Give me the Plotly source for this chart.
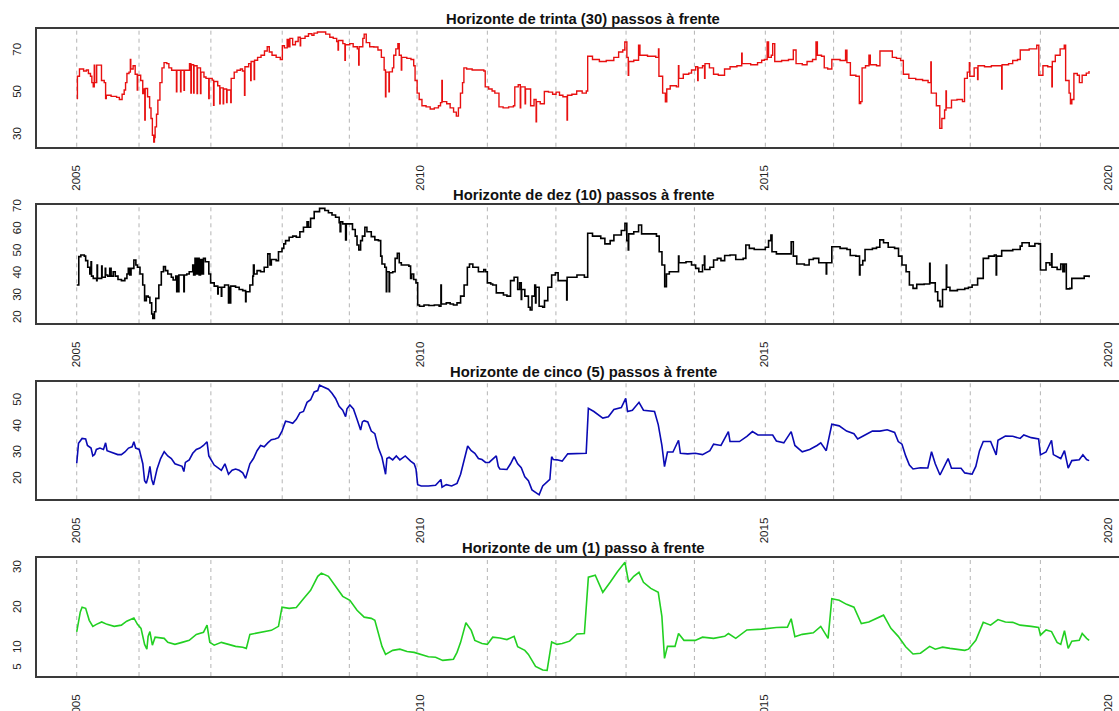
import plotly.graph_objects as go

# First trading day of each year (fractional year on the time axis)
year_marks = [2005.000, 2005.906, 2006.951, 2007.988, 2008.964, 2009.948, 2010.971,
              2011.968, 2012.988, 2013.982, 2015.013, 2016.006, 2016.989, 2017.993, 2019.013]

year_ticks = [2005, 2010, 2015, 2020]

# Forecast series: [fractional year, value]
trinta = [
    [2005.000, 47.5], [2005.010, 58.0], [2005.040, 61.5], [2005.100, 60.5], [2005.140, 61.0],
    [2005.170, 59.3], [2005.200, 58.0], [2005.220, 55.0], [2005.240, 53.0], [2005.255, 63.3],
    [2005.262, 55.0], [2005.290, 63.3], [2005.350, 63.3], [2005.360, 56.0], [2005.400, 55.0],
    [2005.420, 47.5], [2005.430, 49.0], [2005.500, 48.5], [2005.580, 48.0], [2005.620, 47.0],
    [2005.660, 49.5], [2005.690, 51.5], [2005.710, 55.0], [2005.730, 59.3], [2005.760, 60.0],
    [2005.780, 66.0], [2005.786, 61.5], [2005.820, 63.0], [2005.850, 59.0], [2005.880, 51.5],
    [2005.886, 58.5], [2005.930, 56.0], [2005.960, 49.8], [2005.975, 52.0], [2005.990, 37.2],
    [2005.996, 52.2], [2006.030, 48.3], [2006.060, 43.0], [2006.080, 38.0], [2006.100, 30.0],
    [2006.120, 26.8], [2006.130, 29.0], [2006.140, 34.0], [2006.160, 40.0], [2006.180, 46.7],
    [2006.210, 55.0], [2006.240, 62.0], [2006.270, 64.5], [2006.310, 64.0], [2006.340, 62.0],
    [2006.380, 60.9], [2006.450, 50.6], [2006.456, 60.9], [2006.510, 50.6], [2006.516, 60.9],
    [2006.560, 51.4], [2006.566, 60.9], [2006.640, 64.0], [2006.660, 50.0], [2006.666, 63.5],
    [2006.700, 50.0], [2006.706, 63.0], [2006.750, 49.8], [2006.756, 62.0], [2006.800, 49.8],
    [2006.806, 60.0], [2006.850, 57.7], [2006.880, 57.0], [2006.920, 47.5], [2006.926, 57.0],
    [2006.970, 56.2], [2006.990, 44.3], [2006.996, 55.5], [2007.050, 53.5], [2007.080, 45.0],
    [2007.086, 52.5], [2007.130, 45.0], [2007.136, 52.0], [2007.180, 45.5], [2007.186, 51.5],
    [2007.240, 45.5], [2007.246, 57.0], [2007.290, 60.0], [2007.330, 60.9], [2007.380, 61.5],
    [2007.410, 60.5], [2007.440, 49.0], [2007.446, 62.5], [2007.500, 64.0], [2007.530, 56.0],
    [2007.536, 65.0], [2007.580, 56.5], [2007.586, 65.6], [2007.630, 67.0], [2007.680, 68.0],
    [2007.730, 70.0], [2007.770, 72.0], [2007.800, 69.5], [2007.840, 68.0], [2007.900, 67.0],
    [2007.960, 66.0], [2007.990, 72.5], [2008.020, 71.5], [2008.060, 75.5], [2008.080, 72.0],
    [2008.100, 76.0], [2008.140, 73.0], [2008.180, 74.5], [2008.220, 76.5], [2008.250, 72.5],
    [2008.256, 76.0], [2008.320, 77.0], [2008.370, 78.2], [2008.420, 77.5], [2008.450, 78.5],
    [2008.500, 79.0], [2008.620, 78.0], [2008.680, 76.5], [2008.730, 76.0], [2008.780, 74.5],
    [2008.800, 70.4], [2008.806, 75.0], [2008.870, 73.5], [2008.900, 65.6], [2008.906, 73.0],
    [2008.970, 73.5], [2009.020, 72.0], [2009.080, 71.0], [2009.100, 63.3], [2009.106, 72.0],
    [2009.160, 76.0], [2009.180, 78.0], [2009.210, 74.0], [2009.260, 72.0], [2009.320, 71.9],
    [2009.380, 70.5], [2009.430, 67.0], [2009.470, 61.0], [2009.490, 48.3], [2009.496, 60.0],
    [2009.540, 50.6], [2009.546, 60.1], [2009.590, 62.0], [2009.610, 68.0], [2009.640, 71.0],
    [2009.670, 73.5], [2009.690, 68.0], [2009.720, 61.0], [2009.726, 67.0], [2009.800, 66.5],
    [2009.860, 66.0], [2009.900, 63.0], [2009.920, 56.0], [2009.950, 50.0], [2009.980, 47.0],
    [2010.020, 44.0], [2010.080, 43.5], [2010.140, 42.5], [2010.200, 43.0], [2010.260, 44.0],
    [2010.290, 45.5], [2010.310, 56.0], [2010.316, 46.0], [2010.380, 45.0], [2010.430, 43.0],
    [2010.480, 41.0], [2010.520, 39.1], [2010.550, 43.0], [2010.580, 50.0], [2010.610, 55.0],
    [2010.630, 62.0], [2010.670, 61.5], [2010.750, 61.0], [2010.850, 61.0], [2010.920, 60.5],
    [2010.940, 53.0], [2010.990, 52.0], [2011.040, 51.0], [2011.080, 50.0], [2011.140, 43.5],
    [2011.200, 43.0], [2011.280, 43.5], [2011.350, 44.0], [2011.370, 53.0], [2011.420, 54.0],
    [2011.450, 43.0], [2011.456, 53.0], [2011.520, 45.0], [2011.526, 52.0], [2011.600, 44.0],
    [2011.650, 47.0], [2011.680, 36.4], [2011.686, 46.0], [2011.740, 45.0], [2011.800, 50.8],
    [2011.860, 50.5], [2011.920, 49.5], [2011.970, 50.5], [2012.020, 49.0], [2012.070, 48.3],
    [2012.130, 37.2], [2012.136, 49.0], [2012.200, 49.5], [2012.270, 51.0], [2012.350, 50.0],
    [2012.410, 51.0], [2012.430, 67.5], [2012.500, 66.0], [2012.600, 65.0], [2012.700, 65.5],
    [2012.810, 67.0], [2012.880, 69.5], [2012.940, 70.5], [2012.970, 74.3], [2013.000, 67.0],
    [2013.020, 58.5], [2013.026, 65.0], [2013.100, 65.6], [2013.170, 72.7], [2013.190, 68.0],
    [2013.300, 67.5], [2013.420, 67.0], [2013.460, 71.0], [2013.466, 58.0], [2013.520, 50.0],
    [2013.560, 45.9], [2013.580, 52.0], [2013.630, 53.5], [2013.720, 53.0], [2013.750, 63.0],
    [2013.756, 57.0], [2013.820, 59.0], [2013.900, 59.5], [2013.940, 61.0], [2014.000, 62.5],
    [2014.030, 56.0], [2014.036, 62.0], [2014.100, 63.0], [2014.130, 57.0], [2014.136, 64.0],
    [2014.200, 62.0], [2014.260, 59.0], [2014.330, 58.5], [2014.420, 61.5], [2014.500, 62.5],
    [2014.600, 63.0], [2014.670, 69.0], [2014.676, 64.0], [2014.800, 63.5], [2014.900, 64.5],
    [2014.960, 65.6], [2015.000, 66.0], [2015.040, 74.3], [2015.060, 67.0], [2015.100, 68.0],
    [2015.120, 73.5], [2015.150, 65.0], [2015.250, 65.5], [2015.350, 66.0], [2015.420, 70.5],
    [2015.460, 64.0], [2015.550, 63.5], [2015.620, 65.0], [2015.700, 66.0], [2015.750, 74.3],
    [2015.770, 68.0], [2015.830, 67.5], [2015.870, 62.0], [2015.920, 61.5], [2015.980, 66.0],
    [2016.100, 65.5], [2016.180, 70.4], [2016.200, 64.5], [2016.250, 58.5], [2016.330, 58.0],
    [2016.380, 45.1], [2016.400, 46.0], [2016.420, 62.0], [2016.470, 63.0], [2016.520, 68.0],
    [2016.540, 63.5], [2016.630, 63.0], [2016.680, 70.0], [2016.800, 70.0], [2016.860, 67.0],
    [2016.920, 66.5], [2016.980, 65.5], [2017.020, 59.0], [2017.100, 57.0], [2017.200, 56.5],
    [2017.300, 56.0], [2017.380, 55.0], [2017.420, 64.8], [2017.426, 50.0], [2017.500, 44.0],
    [2017.550, 33.3], [2017.580, 38.0], [2017.620, 42.0], [2017.640, 51.0], [2017.646, 43.0],
    [2017.720, 46.7], [2017.800, 47.0], [2017.880, 46.0], [2017.910, 57.0], [2017.950, 60.0],
    [2017.980, 64.5], [2017.986, 58.0], [2018.050, 62.0], [2018.100, 56.5], [2018.106, 63.0],
    [2018.200, 62.5], [2018.300, 63.0], [2018.450, 52.0], [2018.456, 63.5], [2018.550, 64.0],
    [2018.610, 65.5], [2018.680, 66.0], [2018.720, 70.5], [2018.850, 71.0], [2018.960, 72.7],
    [2018.990, 58.5], [2019.050, 63.0], [2019.120, 62.5], [2019.180, 53.0], [2019.186, 65.0],
    [2019.230, 68.0], [2019.300, 71.0], [2019.360, 72.7], [2019.380, 56.0], [2019.430, 50.0],
    [2019.450, 45.0], [2019.470, 47.0], [2019.500, 59.3], [2019.550, 58.5], [2019.580, 55.0],
    [2019.620, 58.5], [2019.680, 59.5], [2019.720, 60.5],
]

dez = [
    [2005.000, 35.0], [2005.030, 47.8], [2005.060, 48.5], [2005.110, 48.0], [2005.130, 46.0],
    [2005.160, 43.0], [2005.190, 40.0], [2005.208, 45.5], [2005.215, 39.0], [2005.240, 38.0],
    [2005.290, 37.0], [2005.296, 44.0], [2005.302, 38.0], [2005.363, 43.5], [2005.369, 38.5],
    [2005.415, 42.5], [2005.421, 39.5], [2005.450, 39.0], [2005.480, 42.5], [2005.500, 39.0],
    [2005.530, 41.0], [2005.560, 39.0], [2005.600, 37.5], [2005.650, 37.0], [2005.700, 38.0],
    [2005.730, 40.0], [2005.750, 42.5], [2005.770, 39.5], [2005.790, 42.5], [2005.831, 46.3],
    [2005.860, 44.0], [2005.883, 43.0], [2005.920, 40.0], [2005.960, 35.0], [2005.987, 28.0],
    [2006.012, 30.0], [2006.040, 29.5], [2006.064, 27.0], [2006.090, 22.0], [2006.106, 20.0],
    [2006.130, 23.0], [2006.150, 29.0], [2006.194, 35.0], [2006.230, 41.0], [2006.262, 43.3],
    [2006.290, 41.5], [2006.324, 40.0], [2006.376, 38.5], [2006.402, 37.3], [2006.440, 39.0],
    [2006.454, 32.0], [2006.460, 39.0], [2006.480, 32.0], [2006.486, 39.5], [2006.558, 32.0],
    [2006.564, 39.5], [2006.600, 40.0], [2006.636, 41.0], [2006.687, 44.0], [2006.700, 39.5],
    [2006.720, 47.0], [2006.740, 40.0], [2006.760, 47.0], [2006.780, 39.5], [2006.800, 46.5],
    [2006.820, 40.0], [2006.843, 47.0], [2006.870, 45.5], [2006.921, 40.0], [2006.947, 36.0],
    [2006.999, 34.5], [2007.051, 31.0], [2007.057, 34.0], [2007.103, 30.0], [2007.109, 34.0],
    [2007.150, 35.0], [2007.207, 27.0], [2007.213, 34.0], [2007.233, 27.0], [2007.239, 34.5],
    [2007.310, 34.0], [2007.362, 33.0], [2007.414, 32.5], [2007.456, 27.5], [2007.462, 32.0],
    [2007.518, 35.0], [2007.560, 39.0], [2007.570, 44.0], [2007.580, 40.0], [2007.622, 41.5],
    [2007.674, 41.0], [2007.726, 43.0], [2007.778, 49.0], [2007.810, 44.0], [2007.830, 46.5],
    [2007.900, 46.0], [2007.934, 50.0], [2007.985, 51.5], [2008.011, 53.5], [2008.037, 55.0],
    [2008.089, 56.5], [2008.141, 57.0], [2008.193, 56.5], [2008.245, 59.0], [2008.297, 61.0],
    [2008.349, 63.5], [2008.370, 61.0], [2008.401, 65.0], [2008.453, 68.0], [2008.531, 69.5],
    [2008.608, 68.5], [2008.660, 67.5], [2008.712, 66.5], [2008.764, 65.5], [2008.816, 63.0],
    [2008.830, 59.0], [2008.840, 63.5], [2008.868, 62.5], [2008.910, 55.3], [2008.920, 62.5],
    [2009.010, 60.0], [2009.050, 57.0], [2009.076, 53.0], [2009.102, 50.8], [2009.128, 55.0],
    [2009.154, 57.0], [2009.190, 61.0], [2009.220, 59.0], [2009.283, 56.8], [2009.335, 55.3],
    [2009.387, 55.0], [2009.420, 48.0], [2009.439, 44.5], [2009.480, 43.0], [2009.502, 32.0],
    [2009.508, 41.0], [2009.543, 32.0], [2009.549, 40.5], [2009.595, 41.0], [2009.630, 47.0],
    [2009.662, 49.3], [2009.690, 45.0], [2009.720, 44.0], [2009.830, 43.5], [2009.855, 38.0],
    [2009.870, 40.0], [2009.900, 37.5], [2009.933, 36.0], [2009.958, 26.0], [2009.984, 25.5],
    [2010.050, 26.0], [2010.120, 25.8], [2010.200, 26.0], [2010.270, 25.5], [2010.296, 35.0],
    [2010.302, 26.5], [2010.374, 27.0], [2010.430, 26.5], [2010.478, 26.0], [2010.530, 27.0],
    [2010.582, 30.0], [2010.633, 35.0], [2010.680, 43.0], [2010.711, 44.5], [2010.760, 43.0],
    [2010.841, 41.0], [2010.919, 42.0], [2010.945, 41.0], [2010.971, 36.0], [2011.020, 35.5],
    [2011.049, 35.0], [2011.101, 31.5], [2011.205, 30.5], [2011.256, 30.0], [2011.308, 37.0],
    [2011.360, 38.5], [2011.412, 33.0], [2011.440, 36.0], [2011.464, 28.5], [2011.470, 33.0],
    [2011.516, 30.0], [2011.568, 25.0], [2011.594, 23.8], [2011.620, 30.0], [2011.660, 35.0],
    [2011.672, 27.0], [2011.678, 34.0], [2011.724, 25.5], [2011.776, 25.0], [2011.802, 28.0],
    [2011.850, 34.0], [2011.906, 39.5], [2011.960, 40.5], [2012.000, 37.0], [2012.113, 37.0],
    [2012.125, 28.3], [2012.131, 38.5], [2012.274, 39.5], [2012.382, 38.5], [2012.430, 58.3],
    [2012.500, 57.0], [2012.620, 56.0], [2012.680, 53.5], [2012.757, 55.0], [2012.811, 57.5],
    [2012.919, 59.5], [2012.972, 62.8], [2012.999, 55.0], [2013.020, 50.8], [2013.026, 58.0],
    [2013.100, 59.0], [2013.170, 62.0], [2013.214, 58.0], [2013.348, 58.0], [2013.430, 57.0],
    [2013.470, 50.0], [2013.510, 44.0], [2013.550, 34.3], [2013.575, 40.0], [2013.617, 41.0],
    [2013.724, 41.0], [2013.751, 48.0], [2013.757, 45.0], [2013.860, 45.5], [2013.940, 44.0],
    [2014.000, 42.5], [2014.046, 41.0], [2014.100, 44.0], [2014.127, 48.0], [2014.133, 42.0],
    [2014.207, 43.0], [2014.261, 46.3], [2014.315, 47.0], [2014.368, 46.0], [2014.422, 48.3],
    [2014.500, 48.5], [2014.583, 46.5], [2014.691, 47.0], [2014.730, 53.0], [2014.780, 51.5],
    [2014.852, 51.0], [2015.013, 52.0], [2015.060, 55.0], [2015.094, 57.5], [2015.110, 50.0],
    [2015.174, 49.0], [2015.335, 49.0], [2015.389, 54.5], [2015.420, 48.0], [2015.470, 44.5],
    [2015.580, 44.0], [2015.650, 46.5], [2015.711, 47.0], [2015.790, 45.0], [2015.899, 40.0],
    [2015.905, 45.0], [2015.980, 52.2], [2016.100, 51.5], [2016.200, 51.0], [2016.248, 48.3],
    [2016.330, 48.0], [2016.383, 39.5], [2016.390, 44.0], [2016.430, 46.0], [2016.463, 51.0],
    [2016.570, 51.5], [2016.630, 52.0], [2016.678, 55.3], [2016.732, 54.0], [2016.800, 52.0],
    [2016.893, 51.5], [2016.950, 48.0], [2017.000, 44.0], [2017.060, 41.0], [2017.108, 35.0],
    [2017.161, 33.5], [2017.215, 35.3], [2017.322, 35.5], [2017.403, 44.8], [2017.409, 36.0],
    [2017.484, 32.0], [2017.520, 28.0], [2017.553, 25.3], [2017.590, 33.0], [2017.645, 44.0],
    [2017.651, 34.0], [2017.698, 32.5], [2017.806, 33.0], [2017.913, 33.5], [2017.967, 34.0],
    [2018.020, 35.0], [2018.100, 38.0], [2018.182, 47.0], [2018.260, 48.0], [2018.343, 48.5],
    [2018.370, 39.5], [2018.376, 48.0], [2018.450, 50.5], [2018.611, 51.0], [2018.719, 52.5],
    [2018.746, 54.0], [2018.850, 52.5], [2018.933, 53.7], [2018.987, 53.5], [2019.014, 41.8],
    [2019.095, 45.0], [2019.148, 44.0], [2019.175, 49.0], [2019.181, 43.0], [2019.256, 42.0],
    [2019.309, 44.5], [2019.340, 41.0], [2019.363, 44.5], [2019.390, 33.3], [2019.440, 33.5],
    [2019.470, 38.0], [2019.580, 38.0], [2019.650, 39.0], [2019.722, 38.5],
]

cinco = [
    [2005.000, 26.2], [2005.026, 33.8], [2005.078, 35.7], [2005.130, 35.5], [2005.156, 33.0],
    [2005.208, 32.0], [2005.234, 29.0], [2005.260, 29.5], [2005.286, 31.5], [2005.337, 32.0],
    [2005.389, 31.5], [2005.420, 34.0], [2005.441, 31.0], [2005.493, 30.5], [2005.545, 30.0],
    [2005.597, 29.5], [2005.649, 29.5], [2005.701, 30.5], [2005.753, 32.0], [2005.805, 32.5],
    [2005.831, 34.4], [2005.857, 32.0], [2005.909, 31.5], [2005.935, 29.0], [2005.961, 26.0],
    [2005.987, 19.5], [2006.012, 18.5], [2006.038, 21.0], [2006.064, 25.0], [2006.090, 20.0],
    [2006.116, 17.9], [2006.142, 21.0], [2006.168, 24.0], [2006.220, 28.0], [2006.272, 30.6],
    [2006.324, 29.0], [2006.376, 28.0], [2006.428, 26.0], [2006.480, 25.5], [2006.532, 25.0],
    [2006.558, 23.0], [2006.580, 26.5], [2006.636, 27.5], [2006.687, 30.0], [2006.739, 31.5],
    [2006.791, 32.0], [2006.843, 33.0], [2006.895, 34.4], [2006.921, 29.0], [2006.960, 27.0],
    [2006.999, 25.5], [2007.051, 24.5], [2007.103, 23.5], [2007.155, 26.0], [2007.207, 22.0],
    [2007.259, 23.5], [2007.310, 24.0], [2007.362, 23.5], [2007.414, 22.5], [2007.456, 20.4],
    [2007.490, 23.0], [2007.518, 26.0], [2007.570, 28.0], [2007.622, 31.0], [2007.674, 33.0],
    [2007.726, 32.5], [2007.778, 34.0], [2007.830, 35.2], [2007.882, 35.5], [2007.934, 36.0],
    [2007.985, 38.5], [2008.037, 42.3], [2008.089, 42.0], [2008.141, 41.5], [2008.193, 43.0],
    [2008.245, 45.5], [2008.297, 46.0], [2008.349, 49.5], [2008.401, 50.5], [2008.453, 53.5],
    [2008.505, 54.0], [2008.531, 56.1], [2008.580, 55.5], [2008.660, 54.5], [2008.712, 53.0],
    [2008.764, 51.0], [2008.816, 48.0], [2008.868, 46.5], [2008.910, 44.0], [2008.930, 47.0],
    [2008.972, 48.5], [2009.024, 47.0], [2009.076, 43.0], [2009.128, 38.9], [2009.154, 42.0],
    [2009.180, 42.5], [2009.232, 42.0], [2009.283, 38.5], [2009.335, 37.5], [2009.387, 32.0],
    [2009.439, 28.5], [2009.491, 22.0], [2009.510, 28.0], [2009.543, 28.5], [2009.595, 27.5],
    [2009.647, 29.0], [2009.699, 27.5], [2009.777, 29.0], [2009.855, 27.0], [2009.907, 26.0],
    [2009.933, 24.0], [2009.958, 18.0], [2010.010, 17.5], [2010.114, 17.5], [2010.218, 17.8],
    [2010.296, 20.0], [2010.312, 17.0], [2010.374, 18.0], [2010.452, 17.5], [2010.530, 18.5],
    [2010.582, 22.0], [2010.633, 27.0], [2010.685, 32.8], [2010.737, 31.0], [2010.789, 30.0],
    [2010.841, 28.0], [2010.893, 27.6], [2010.945, 26.5], [2010.997, 26.5], [2011.101, 29.0],
    [2011.130, 25.0], [2011.153, 24.0], [2011.256, 23.8], [2011.308, 26.0], [2011.360, 28.7],
    [2011.412, 26.0], [2011.464, 24.5], [2011.516, 21.0], [2011.568, 19.5], [2011.620, 16.0],
    [2011.672, 15.0], [2011.724, 14.1], [2011.776, 17.5], [2011.818, 18.5], [2011.880, 20.0],
    [2011.906, 28.7], [2011.931, 27.6], [2011.983, 27.5], [2012.059, 27.0], [2012.140, 29.8],
    [2012.274, 30.0], [2012.408, 30.0], [2012.440, 47.2], [2012.520, 46.0], [2012.650, 43.5],
    [2012.731, 44.0], [2012.811, 46.8], [2012.919, 47.5], [2012.983, 51.0], [2013.010, 46.0],
    [2013.080, 46.5], [2013.176, 49.5], [2013.241, 46.5], [2013.402, 46.0], [2013.456, 41.0],
    [2013.509, 33.0], [2013.547, 24.9], [2013.590, 30.5], [2013.670, 30.5], [2013.751, 35.0],
    [2013.778, 30.0], [2013.885, 29.8], [2013.993, 30.0], [2014.100, 29.5], [2014.207, 31.0],
    [2014.261, 33.5], [2014.368, 33.0], [2014.476, 38.3], [2014.500, 34.5], [2014.637, 34.5],
    [2014.745, 36.5], [2014.825, 38.3], [2014.906, 37.0], [2015.013, 37.0], [2015.120, 37.0],
    [2015.174, 34.7], [2015.282, 34.0], [2015.389, 38.3], [2015.443, 33.0], [2015.550, 30.6],
    [2015.658, 31.5], [2015.765, 33.0], [2015.819, 34.0], [2015.899, 31.0], [2015.980, 41.1],
    [2016.087, 40.5], [2016.195, 38.5], [2016.302, 37.5], [2016.356, 35.5], [2016.463, 37.0],
    [2016.570, 38.5], [2016.678, 38.5], [2016.785, 39.0], [2016.893, 38.0], [2016.946, 34.5],
    [2017.000, 33.5], [2017.054, 29.0], [2017.108, 25.5], [2017.161, 24.0], [2017.269, 24.5],
    [2017.376, 24.4], [2017.430, 30.6], [2017.484, 26.0], [2017.553, 21.7], [2017.610, 25.0],
    [2017.671, 28.0], [2017.720, 24.3], [2017.859, 24.3], [2017.913, 22.5], [2018.020, 22.0],
    [2018.074, 25.0], [2018.128, 31.0], [2018.182, 34.5], [2018.289, 34.5], [2018.370, 29.4],
    [2018.396, 35.0], [2018.504, 36.6], [2018.611, 36.5], [2018.719, 35.7], [2018.772, 37.0],
    [2018.880, 36.0], [2018.987, 35.5], [2019.014, 29.4], [2019.095, 30.5], [2019.175, 35.0],
    [2019.202, 29.5], [2019.309, 28.0], [2019.363, 31.0], [2019.417, 24.3], [2019.470, 27.2],
    [2019.578, 27.5], [2019.631, 29.4], [2019.685, 27.6], [2019.722, 27.2],
]

um = [
    [2005.000, 14.1], [2005.052, 19.1], [2005.078, 20.3], [2005.130, 20.0], [2005.182, 17.0],
    [2005.234, 15.5], [2005.286, 16.0], [2005.363, 16.6], [2005.441, 16.0], [2005.545, 15.5],
    [2005.649, 15.8], [2005.727, 16.8], [2005.831, 17.6], [2005.883, 16.0], [2005.935, 15.0],
    [2005.987, 11.0], [2006.020, 9.8], [2006.038, 13.0], [2006.064, 14.2], [2006.100, 10.8],
    [2006.140, 12.8], [2006.194, 12.6], [2006.272, 12.5], [2006.324, 11.5], [2006.428, 11.0],
    [2006.532, 11.5], [2006.636, 12.0], [2006.739, 13.5], [2006.843, 14.0], [2006.895, 15.8],
    [2006.935, 11.5], [2006.999, 10.8], [2007.103, 11.5], [2007.207, 11.0], [2007.310, 10.5],
    [2007.414, 10.3], [2007.466, 10.0], [2007.518, 13.5], [2007.622, 13.8], [2007.726, 14.2],
    [2007.830, 14.5], [2007.934, 15.5], [2007.985, 20.3], [2008.089, 20.0], [2008.193, 20.2],
    [2008.297, 22.4], [2008.401, 24.5], [2008.505, 28.0], [2008.557, 28.8], [2008.660, 28.0],
    [2008.764, 25.5], [2008.868, 23.0], [2008.972, 22.0], [2009.076, 19.5], [2009.180, 17.8],
    [2009.283, 17.5], [2009.335, 17.0], [2009.387, 13.5], [2009.439, 10.5], [2009.491, 8.5],
    [2009.595, 9.5], [2009.699, 9.8], [2009.803, 9.2], [2009.907, 9.0], [2010.010, 8.5],
    [2010.114, 7.9], [2010.218, 7.8], [2010.322, 7.0], [2010.426, 7.2], [2010.478, 7.3],
    [2010.530, 9.0], [2010.582, 11.5], [2010.659, 16.4], [2010.737, 14.5], [2010.789, 12.0],
    [2010.893, 11.2], [2010.971, 11.0], [2011.049, 12.8], [2011.153, 12.6], [2011.256, 12.2],
    [2011.360, 13.0], [2011.412, 10.4], [2011.516, 9.5], [2011.568, 8.5], [2011.672, 5.5],
    [2011.724, 5.0], [2011.776, 4.6], [2011.840, 4.5], [2011.906, 11.6], [2011.983, 11.0],
    [2012.059, 11.2], [2012.167, 11.8], [2012.274, 13.6], [2012.382, 13.7], [2012.440, 27.8],
    [2012.540, 28.3], [2012.650, 24.0], [2012.757, 26.5], [2012.865, 29.2], [2012.972, 31.5],
    [2013.026, 26.5], [2013.100, 28.0], [2013.176, 29.0], [2013.241, 26.5], [2013.348, 25.0],
    [2013.456, 24.0], [2013.509, 18.0], [2013.547, 7.5], [2013.590, 10.5], [2013.700, 10.5],
    [2013.751, 13.7], [2013.830, 12.0], [2013.993, 12.0], [2014.100, 12.8], [2014.261, 12.5],
    [2014.422, 13.0], [2014.476, 13.7], [2014.583, 12.5], [2014.745, 14.6], [2014.959, 14.8],
    [2015.174, 15.2], [2015.335, 15.3], [2015.389, 17.4], [2015.443, 12.9], [2015.550, 13.5],
    [2015.711, 13.9], [2015.819, 15.5], [2015.926, 12.5], [2015.980, 22.4], [2016.087, 22.0],
    [2016.195, 21.0], [2016.302, 20.3], [2016.409, 16.2], [2016.517, 16.6], [2016.678, 17.8],
    [2016.732, 18.3], [2016.839, 15.0], [2016.946, 13.0], [2017.054, 10.4], [2017.161, 8.6],
    [2017.269, 8.8], [2017.403, 10.5], [2017.484, 9.8], [2017.591, 10.3], [2017.698, 10.0],
    [2017.806, 9.8], [2017.913, 9.5], [2017.967, 9.8], [2018.074, 12.0], [2018.182, 16.5],
    [2018.289, 15.8], [2018.396, 17.2], [2018.504, 16.6], [2018.611, 16.5], [2018.719, 15.8],
    [2018.880, 15.5], [2018.987, 15.2], [2019.014, 13.3], [2019.095, 14.6], [2019.175, 14.2],
    [2019.256, 11.5], [2019.309, 11.0], [2019.363, 14.4], [2019.417, 10.0], [2019.470, 11.8],
    [2019.578, 12.0], [2019.621, 13.7], [2019.685, 12.5], [2019.722, 12.0],
]

titles = [
    "Horizonte de trinta (30) passos à frente",
    "Horizonte de dez (10) passos à frente",
    "Horizonte de cinco (5) passos à frente",
    "Horizonte de um (1) passo à frente",
]
y_ticks = [[30, 50, 70], [20, 30, 40, 50, 60, 70], [20, 30, 40, 50], [5, 10, 20, 30]]

# ---- layout ----
W, H = 1119, 711
FONT = "Liberation Sans, Arial, sans-serif"
AXIS_COLOR = "#3a3a3a"
boxes = [(29.3, 146.7), (205.0, 323.3), (381.7, 499.3), (558.3, 676.0)]   # panel top/bottom (px)
y_ranges = [[24.6, 80.3], [17.8, 71.0], [12.4, 57.4], [3.1, 32.5]]
styles = [("#e81010", 1.4, "hv"), ("#000000", 1.6, "hv"), ("#0a0ab4", 1.6, "linear"),
          ("#22d022", 1.6, "linear")]
x_left_px = 36.7
x_range = [2004.418, 2020.156]
title_center_px = 583.4

fig = go.Figure()
series_list = [trinta, dez, cinco, um]

for i, series in enumerate(series_list):
    n = "" if i == 0 else str(i + 1)
    color, width, shape = styles[i]
    top, bot = boxes[i]

    fig.add_trace(go.Scatter(
        x=[p[0] for p in series], y=[p[1] for p in series],
        mode="lines", line=dict(color=color, width=width, shape=shape),
        xaxis="x" + n, yaxis="y" + n, hoverinfo="skip", showlegend=False,
    ))

    fig.layout["xaxis" + n] = dict(
        domain=[x_left_px / W, 1.0], anchor="y" + n, range=x_range,
        tickvals=year_ticks, ticktext=[str(t) for t in year_ticks],
        tickangle=-90, ticks="", ticklabelstandoff=12,
        showline=True, linecolor=AXIS_COLOR, linewidth=1.6, mirror=True,
        showgrid=False, zeroline=False, automargin=False, fixedrange=True,
        tickfont=dict(family=FONT, size=11.5, color="#222222"),
    )
    fig.layout["yaxis" + n] = dict(
        domain=[(H - bot) / H, (H - top) / H], anchor="x" + n, range=y_ranges[i],
        tickvals=y_ticks[i], ticktext=[str(t) for t in y_ticks[i]],
        tickangle=-90, ticks="", ticklabelstandoff=9,
        showline=True, linecolor=AXIS_COLOR, linewidth=1.6, mirror=False,
        showgrid=False, zeroline=False, automargin=False, fixedrange=True,
        tickfont=dict(family=FONT, size=11.5, color="#222222"),
    )

    for m in year_marks:
        fig.add_shape(
            type="line", xref="x" + n, yref="y" + n + " domain",
            x0=m, x1=m, y0=0, y1=1, layer="below",
            line=dict(color="#b4b4b4", width=1, dash="4px,4px"),
        )

    fig.add_annotation(
        text="<b>" + titles[i] + "</b>", xref="paper", yref="paper",
        x=title_center_px / W, y=(H - top) / H, xanchor="center", yanchor="bottom",
        yshift=0, showarrow=False,
        font=dict(family=FONT, size=14.8, color="#111111"),
    )

fig.update_layout(
    width=W, height=H, margin=dict(l=0, r=0, t=0, b=0),
    paper_bgcolor="white", plot_bgcolor="white",
)

fig.write_html("out.html", config={"displayModeBar": False})
